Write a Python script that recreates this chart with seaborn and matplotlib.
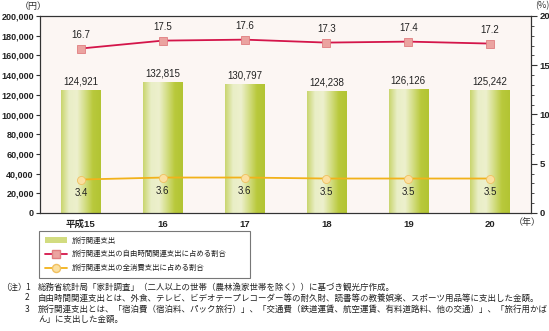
import numpy as np
import pandas as pd
import matplotlib
matplotlib.use("Agg")
import matplotlib.pyplot as plt
from matplotlib.colors import LinearSegmentedColormap
from matplotlib.lines import Line2D
from matplotlib.patches import Patch
import seaborn as sns

years = ["平成15", "16", "17", "18", "19", "20"]
travel_spending = [124921, 132815, 130797, 124238, 126126, 125242]
share_leisure = [16.7, 17.5, 17.6, 17.3, 17.4, 17.2]
share_total = [3.4, 3.6, 3.6, 3.5, 3.5, 3.5]

legend_labels = ["旅行関連支出",
                 "旅行関連支出の自由時間関連支出に占める割合",
                 "旅行関連支出の全消費支出に占める割合"]
notes = [
    ("（注）", "1", "総務省統計局「家計調査」（二人以上の世帯（農林漁家世帯を除く））に基づき観光庁作成。"),
    ("", "2", "自由時間関連支出とは、外食、テレビ、ビデオテープレコーダー等の耐久財、読書等の教養娯楽、スポーツ用品等に支出した金額。"),
    ("", "3", "旅行関連支出とは、「宿泊費（宿泊料、パック旅行）」、「交通費（鉄道運賃、航空運賃、有料道路料、他の交通）」、「旅行用かば"),
    ("", "", "ん」に支出した金額。"),
]

sns.set_theme(style="white")
jp = ["Noto Sans CJK JP", "DejaVu Sans"]
num = ["Liberation Sans", "Noto Sans CJK JP"]
plt.rcParams["font.family"] = jp

df = pd.DataFrame({"year": years, "spend": travel_spending,
                   "leisure": share_leisure, "total": share_total})

fig = plt.figure(figsize=(5.49, 3.31), dpi=100)
ax = fig.add_axes([40 / 549, 1 - 213 / 331, 491 / 549, 197 / 331])
ax.set_facecolor("#fcf6f3")

sns.barplot(data=df, x="year", y="spend", ax=ax, color="#c6d45a",
            width=0.48, saturation=1, edgecolor="none")

# horizontal green gradient inside each bar
bar_cmap = LinearSegmentedColormap.from_list(
    "bar", ["#c9d56e", "#e9eec6", "#edf0cd", "#d4de86", "#b9c93c", "#b2c433"])
grad = np.linspace(0, 1, 128).reshape(1, -1)
for p in ax.patches:
    x0, y0 = p.get_x(), p.get_y()
    w, h = p.get_width(), p.get_height()
    im = ax.imshow(grad, cmap=bar_cmap, aspect="auto",
                   extent=[x0, x0 + w, y0, y0 + h], zorder=2)
    im.set_clip_path(p)

ax.set_xlim(-0.5, 5.5)
ax.set_ylim(0, 200000)
ax.set_yticks(range(0, 200001, 20000))
ax.set_yticklabels([f"{v:,}" for v in range(0, 200001, 20000)],
                   fontsize=6.5, fontweight="bold", family=num, color="#222222")
ax.set_xticks(range(len(years)))
ax.set_xticklabels(years, fontsize=6.8, fontweight="bold", family=num, color="#222222")
ax.set_xticks(np.arange(0.5, 5.5, 1), minor=True)
ax.tick_params(axis="x", which="major", length=0, pad=5)
ax.tick_params(axis="x", which="minor", direction="in", length=4, color="#333333", width=0.8)
ax.tick_params(axis="y", which="major", direction="out", length=3, color="#333333", width=0.8, pad=1.5)
ax.set_xlabel("")
ax.set_ylabel("")
for s in ax.spines.values():
    s.set_color("#333333")
    s.set_linewidth(0.8)

for i, v in enumerate(travel_spending):
    ax.text(i, v + 3500, f"{v:,}", ha="center", va="bottom",
            fontsize=7, family=num, color="#222222")

ax2 = ax.twinx()
ax2.set_ylim(0, 20)
xs = np.arange(len(years))
ax2.plot(xs, share_leisure, color="#d4154a", lw=1.3, zorder=3)
ax2.plot(xs, share_leisure, ls="none", marker="s", ms=5.5, mfc="#eba3a0",
         mec="#e07d7f", mew=0.6, zorder=4)
ax2.plot(xs, share_total, color="#f2b21a", lw=1.3, zorder=3)
ax2.plot(xs, share_total, ls="none", marker="o", ms=5.8, mfc="#fbe0a0",
         mec="#f0c060", mew=0.6, zorder=4)
for i, v in enumerate(share_leisure):
    ax2.text(i, v + 0.9, f"{v:.1f}", ha="center", va="bottom",
             fontsize=7, family=num, color="#222222")
for i, v in enumerate(share_total):
    ax2.text(i, v - 0.9, f"{v:.1f}", ha="center", va="top",
             fontsize=7, family=num, color="#222222")
ax2.set_yticks([0, 5, 10, 15, 20])
ax2.set_yticklabels(["0", "5", "10", "15", "20"], fontsize=6.8,
                    fontweight="bold", family=num, color="#222222")
ax2.set_yticks(np.arange(0, 21, 1), minor=True)
ax2.tick_params(axis="y", which="major", direction="out", length=4, color="#333333", width=0.8, pad=2)
ax2.tick_params(axis="y", which="minor", direction="out", length=2.5, color="#333333", width=0.6)
ax2.grid(False)
ax.grid(False)
for s in ax2.spines.values():
    s.set_color("#333333")
    s.set_linewidth(0.8)

fig.text(33 / 549, 1 - 6 / 331, "（円）", ha="center", va="center", fontsize=6.5, color="#333333")
fig.text(542 / 549, 1 - 6 / 331, "(%)", ha="center", va="center", fontsize=6.5, color="#333333")
fig.text(527 / 549, 1 - 223 / 331, "（年）", ha="center", va="center", fontsize=6.5, color="#333333")

handles = [
    Patch(facecolor="#d2dc80", edgecolor="none"),
    Line2D([], [], color="#d4154a", lw=1.3, marker="s", ms=5.5, mfc="#eba3a0", mec="#e07d7f"),
    Line2D([], [], color="#f2b21a", lw=1.3, marker="o", ms=5.8, mfc="#fbe0a0", mec="#f0c060"),
]
leg = fig.legend(handles, legend_labels, loc="upper left",
                 bbox_to_anchor=(39 / 549, 1 - 277 / 331, 211 / 549, 46 / 331),
                 mode="expand", fontsize=5.3,
                 frameon=True, fancybox=False, shadow=False, handlelength=3.0,
                 handleheight=0.9, labelspacing=0.8, borderpad=0.75,
                 handletextpad=0.7, borderaxespad=0)
leg.get_frame().set_edgecolor("#555555")
leg.get_frame().set_linewidth(0.8)
for t in leg.get_texts():
    t.set_color("#222222")

ys = [287, 298, 309, 319]
for (a, b, c), y in zip(notes, ys):
    yf = 1 - y / 331
    if a:
        fig.text(1 / 549, yf, a, fontsize=6.1, va="center", color="#222222")
    if b:
        fig.text(25 / 549, yf, b, fontsize=6.1, va="center", color="#222222")
    fig.text(38 / 549, yf, c, fontsize=6.1, va="center", color="#222222")

fig.savefig("out.png", dpi=100)
